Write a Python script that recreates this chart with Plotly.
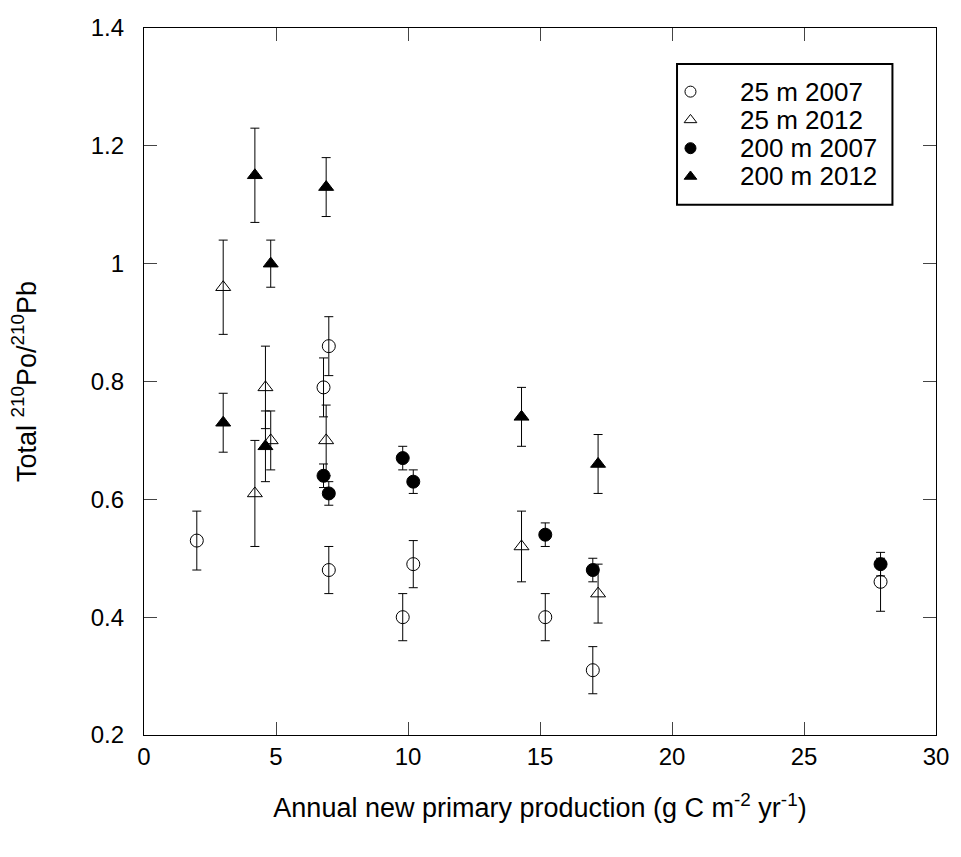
import plotly.graph_objects as go

# 25 m 2007 (open circles)
x_25_2007 = [2.0, 6.8, 7.0, 7.0, 9.8, 10.2, 15.2, 17.0, 27.9]
y_25_2007 = [0.53, 0.79, 0.86, 0.48, 0.40, 0.49, 0.40, 0.31, 0.46]
hi_25_2007 = [0.58, 0.84, 0.91, 0.52, 0.44, 0.53, 0.44, 0.35, 0.50]
lo_25_2007 = [0.48, 0.74, 0.81, 0.44, 0.36, 0.45, 0.36, 0.27, 0.41]

# 25 m 2012 (open triangles)
x_25_2012 = [3.0, 4.2, 4.6, 4.8, 6.9, 14.3, 17.2]
y_25_2012 = [0.96, 0.61, 0.79, 0.70, 0.70, 0.52, 0.44]
hi_25_2012 = [1.04, 0.70, 0.86, 0.75, 0.76, 0.58, 0.49]
lo_25_2012 = [0.88, 0.52, 0.72, 0.65, 0.64, 0.46, 0.39]

# 200 m 2007 (filled circles)
x_200_2007 = [6.8, 7.0, 9.8, 10.2, 15.2, 17.0, 27.9]
y_200_2007 = [0.64, 0.61, 0.67, 0.63, 0.54, 0.48, 0.49]
hi_200_2007 = [0.66, 0.63, 0.69, 0.65, 0.56, 0.50, 0.51]
lo_200_2007 = [0.62, 0.59, 0.65, 0.61, 0.52, 0.46, 0.47]

# 200 m 2012 (filled triangles)
x_200_2012 = [3.0, 4.2, 4.6, 4.8, 6.9, 14.3, 17.2]
y_200_2012 = [0.73, 1.15, 0.69, 1.00, 1.13, 0.74, 0.66]
hi_200_2012 = [0.78, 1.23, 0.75, 1.04, 1.18, 0.79, 0.71]
lo_200_2012 = [0.68, 1.07, 0.63, 0.96, 1.08, 0.69, 0.61]

series_names = ["25 m 2007", "25 m 2012", "200 m 2007", "200 m 2012"]
series_symbols = ["circle-open", "triangle-up-open", "circle", "triangle-up"]

x_ticks = [0, 5, 10, 15, 20, 25, 30]
y_ticks = [0.2, 0.4, 0.6, 0.8, 1.0, 1.2, 1.4]
y_tick_text = ["0.2", "0.4", "0.6", "0.8", "1", "1.2", "1.4"]

FONT = "Arial, Liberation Sans, sans-serif"


def errs(y, hi, lo):
    up = [h - v for v, h in zip(y, hi)]
    dn = [v - l for v, l in zip(y, lo)]
    return up, dn


data = [
    (x_25_2007, y_25_2007, hi_25_2007, lo_25_2007),
    (x_25_2012, y_25_2012, hi_25_2012, lo_25_2012),
    (x_200_2007, y_200_2007, hi_200_2007, lo_200_2007),
    (x_200_2012, y_200_2012, hi_200_2012, lo_200_2012),
]

fig = go.Figure()
for name, sym, (xs, ys, hi, lo) in zip(series_names, series_symbols, data):
    up, dn = errs(ys, hi, lo)
    fig.add_trace(go.Scatter(
        x=xs, y=ys, mode="markers", name=name, showlegend=False,
        marker=dict(symbol=sym, size=13, color="black",
                    line=dict(color="black", width=1)),
        error_y=dict(type="data", symmetric=False, array=up, arrayminus=dn,
                     color="black", thickness=1, width=4.5),
    ))

# custom legend (fractions of the plot area)
leg_sym_x = 0.690
leg_txt_x = 0.750
leg_rows = [0.910, 0.870, 0.830, 0.790]
fig.add_trace(go.Scatter(
    x=[leg_sym_x] * 4, y=leg_rows, xaxis="x2", yaxis="y2", mode="markers",
    showlegend=False, hoverinfo="skip",
    marker=dict(symbol=series_symbols, size=11, color="black",
                line=dict(color="black", width=1)),
))
for name, ry in zip(series_names, leg_rows):
    fig.add_annotation(x=leg_txt_x, y=ry, xref="x2", yref="y2", text=name,
                       showarrow=False, xanchor="left", yanchor="middle",
                       font=dict(family=FONT, size=26, color="black"))
fig.add_shape(type="rect", xref="x2", yref="y2", x0=0.673, x1=0.945, y0=0.750, y1=0.949,
              line=dict(color="black", width=2), fillcolor="rgba(0,0,0,0)", layer="below")

axis_common = dict(
    showline=True, linecolor="black", linewidth=1.3, mirror="ticks",
    ticks="inside", ticklen=13, tickcolor="#444", tickwidth=1,
    showgrid=False, zeroline=False,
    tickfont=dict(family=FONT, size=24, color="black"),
)

fig.update_layout(
    width=961, height=857,
    margin=dict(l=144, r=16, t=28, b=122),
    plot_bgcolor="white", paper_bgcolor="white",
    font=dict(family=FONT, color="black"),
    showlegend=False,
    xaxis=dict(range=[0, 30], tickvals=x_ticks, **axis_common,
               title=dict(text="Annual new primary production (g C m<sup>-2</sup> yr<sup>-1</sup>)",
                          font=dict(family=FONT, size=27, color="black"), standoff=29)),
    yaxis=dict(range=[0.2, 1.4], tickvals=y_ticks, ticktext=y_tick_text, **axis_common,
               ticklabelstandoff=14,
               title=dict(text="Total <sup>210</sup>Po/<sup>210</sup>Pb",
                          font=dict(family=FONT, size=27, color="black"), standoff=46)),
    xaxis2=dict(overlaying="x", range=[0, 1], visible=False, fixedrange=True),
    yaxis2=dict(overlaying="y", range=[0, 1], visible=False, fixedrange=True),
)

fig.write_html("out.html")
